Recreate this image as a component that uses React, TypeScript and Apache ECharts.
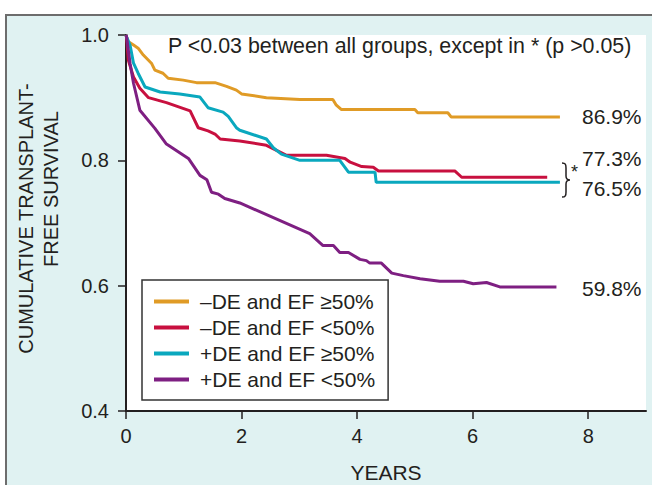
import React, { useEffect, useRef } from "react";
import * as echarts from "echarts";

const seriesNames = ["–DE and EF ≥50%", "–DE and EF <50%", "+DE and EF ≥50%", "+DE and EF <50%"];
const seriesColors = ["#E09B26", "#C8103F", "#0AA8BE", "#7E1F82"];

const orangeData: number[][] = [
  [0, 1.0], [0.03, 0.99], [0.13, 0.984], [0.21, 0.979], [0.3, 0.968], [0.44, 0.955], [0.5, 0.944],
  [0.64, 0.939], [0.73, 0.931], [0.99, 0.928], [1.22, 0.924], [1.54, 0.924], [1.74, 0.918],
  [1.91, 0.912], [2.0, 0.906], [2.43, 0.9], [3.01, 0.897], [3.58, 0.897], [3.64, 0.888],
  [3.73, 0.881], [5.0, 0.881], [5.05, 0.876], [5.57, 0.876], [5.63, 0.869], [7.51, 0.869],
];
const redData: number[][] = [
  [0, 1.0], [0.01, 0.997], [0.04, 0.96], [0.13, 0.933], [0.24, 0.915], [0.39, 0.9], [0.7, 0.892],
  [1.11, 0.879], [1.25, 0.852], [1.42, 0.847], [1.54, 0.842], [1.63, 0.834], [1.97, 0.831],
  [2.43, 0.824], [2.78, 0.808], [3.47, 0.808], [3.79, 0.803], [3.88, 0.797], [4.08, 0.79],
  [4.28, 0.789], [4.37, 0.783], [5.69, 0.783], [5.81, 0.773], [7.29, 0.773],
];
const cyanData: number[][] = [
  [0, 1.0], [0.01, 0.997], [0.07, 0.984], [0.13, 0.955], [0.21, 0.939], [0.33, 0.917], [0.59, 0.909],
  [0.93, 0.906], [1.28, 0.901], [1.42, 0.884], [1.68, 0.877], [1.77, 0.87], [1.91, 0.852],
  [1.97, 0.848], [2.43, 0.834], [2.55, 0.82], [2.69, 0.81], [3.01, 0.8], [3.7, 0.8], [3.85, 0.781],
  [4.31, 0.781], [4.33, 0.765], [7.51, 0.765],
];
const purpleData: number[][] = [
  [0, 1.0], [0.01, 0.997], [0.07, 0.955], [0.13, 0.923], [0.24, 0.88], [0.5, 0.851], [0.7, 0.826],
  [1.08, 0.803], [1.28, 0.776], [1.4, 0.769], [1.48, 0.749], [1.6, 0.746], [1.71, 0.739],
  [1.97, 0.732], [3.18, 0.683], [3.41, 0.664], [3.59, 0.664], [3.7, 0.653], [3.85, 0.653],
  [4.05, 0.642], [4.16, 0.64], [4.22, 0.636], [4.42, 0.636], [4.6, 0.62], [4.8, 0.616],
  [5.09, 0.611], [5.43, 0.607], [5.84, 0.607], [6.01, 0.603], [6.24, 0.605], [6.47, 0.598],
  [7.45, 0.598],
];
const allData = [orangeData, redData, cyanData, purpleData];

const xTicks = [0, 2, 4, 6, 8];
const endLabels = ["86.9%", "77.3%", "76.5%", "59.8%"];
const annotation = "P <0.03 between all groups, except in * (p >0.05)";
const yNameLines = ["CUMULATIVE TRANSPLANT-", "FREE SURVIVAL"];
const xName = "YEARS";

const FONT = "'Liberation Sans', Arial, Helvetica, sans-serif";
const TXT = "#231f20";

const braceD =
  "M0 0 C3.5 0 4 1.5 4 5 L4 13 C4 16 5 17 8 17 C5 17 4 18 4 21 L4 29 C4 32.5 3.5 34 0 34";
let braceRegistered = false;

export default function App() {
  const ref = useRef<HTMLDivElement>(null);
  useEffect(() => {
    if (!ref.current) return;
    if (!braceRegistered) {
      echarts.graphic.registerShape("brace", echarts.graphic.extendPath(braceD, {}));
      braceRegistered = true;
    }
    const chart = echarts.init(ref.current, undefined, { renderer: "svg" });
    const txt = (text: string, x: number, y: number, extra: any = {}) => ({
      type: "text",
      x,
      y,
      z: 100,
      style: {
        text,
        fill: TXT,
        font: `21px ${FONT}`,
        textAlign: "left",
        textVerticalAlign: "middle",
        ...extra,
      },
    });
    chart.setOption({
      animation: false,
      backgroundColor: "#ffffff",
      grid: {
        left: 126,
        right: 6,
        top: 35,
        bottom: 74,
        show: true,
        backgroundColor: "#ffffff",
        borderWidth: 0,
        containLabel: false,
      },
      xAxis: {
        type: "value",
        min: 0,
        max: 9,
        interval: 2,
        axisLine: { show: true, onZero: false, lineStyle: { color: TXT, width: 2 } },
        axisTick: { show: true, length: 8, customValues: xTicks, lineStyle: { color: TXT, width: 1.5 } },
        axisLabel: {
          customValues: xTicks,
          fontSize: 20,
          fontFamily: FONT,
          color: TXT,
          margin: 15,
          formatter: (v: number) => (v > 8 ? "" : String(v)),
        },
        splitLine: { show: false },
      },
      yAxis: {
        type: "value",
        min: 0.4,
        max: 1.0,
        interval: 0.2,
        axisLine: { show: true, onZero: false, lineStyle: { color: TXT, width: 2 } },
        axisTick: { show: true, length: 8, lineStyle: { color: TXT, width: 1.5 } },
        axisLabel: {
          fontSize: 20,
          fontFamily: FONT,
          color: TXT,
          margin: 17,
          formatter: (v: number) => v.toFixed(1),
        },
        splitLine: { show: false },
      },
      legend: {
        orient: "vertical",
        left: 142,
        top: 280,
        padding: [11, 13, 10, 12],
        itemWidth: 35,
        itemHeight: 4,
        itemGap: 5,
        icon: "rect",
        borderColor: "#333333",
        borderWidth: 1.5,
        backgroundColor: "#ffffff",
        textStyle: { fontSize: 21, fontFamily: FONT, color: TXT, lineHeight: 21, padding: [0, 0, 0, 6] },
        data: seriesNames,
      },
      series: allData.map((d, i) => ({
        name: seriesNames[i],
        type: "line",
        data: d,
        symbol: "none",
        showSymbol: false,
        color: seriesColors[i],
        lineStyle: { width: 3, color: seriesColors[i] },
        z: 3,
      })),
      graphic: [
        {
          type: "rect",
          z: -100,
          silent: true,
          shape: { x: 6, y: 15, width: 700, height: 520 },
          style: { fill: "#E0F2F2", stroke: "#6d6d6d", lineWidth: 2 },
        },
        txt(annotation, 168, 46, { font: `21.4px ${FONT}` }),
        txt(endLabels[0], 582, 116),
        txt(endLabels[1], 582, 158),
        txt(endLabels[2], 582, 188.5),
        txt(endLabels[3], 582, 288.5),
        txt(xName, 386, 472, { textAlign: "center" }),
        {
          type: "text",
          x: 25.5,
          y: 218.5,
          rotation: Math.PI / 2,
          z: 100,
          style: { text: yNameLines[0], fill: TXT, font: `20px ${FONT}`, textAlign: "center", textVerticalAlign: "middle" },
        },
        {
          type: "text",
          x: 51,
          y: 189,
          rotation: Math.PI / 2,
          z: 100,
          style: { text: yNameLines[1], fill: TXT, font: `20px ${FONT}`, textAlign: "center", textVerticalAlign: "middle" },
        },
        {
          type: "brace",
          x: 562,
          y: 163,
          z: 100,
          style: { fill: "none", stroke: TXT, lineWidth: 1.5 },
        },
        txt("*", 571, 163, { font: `18px ${FONT}`, textVerticalAlign: "top" }),
      ],
    });
    return () => chart.dispose();
  }, []);
  return (
    <div
      ref={ref}
      style={{ position: "fixed", left: 0, top: 0, width: 652, height: 485 }}
    />
  );
}
